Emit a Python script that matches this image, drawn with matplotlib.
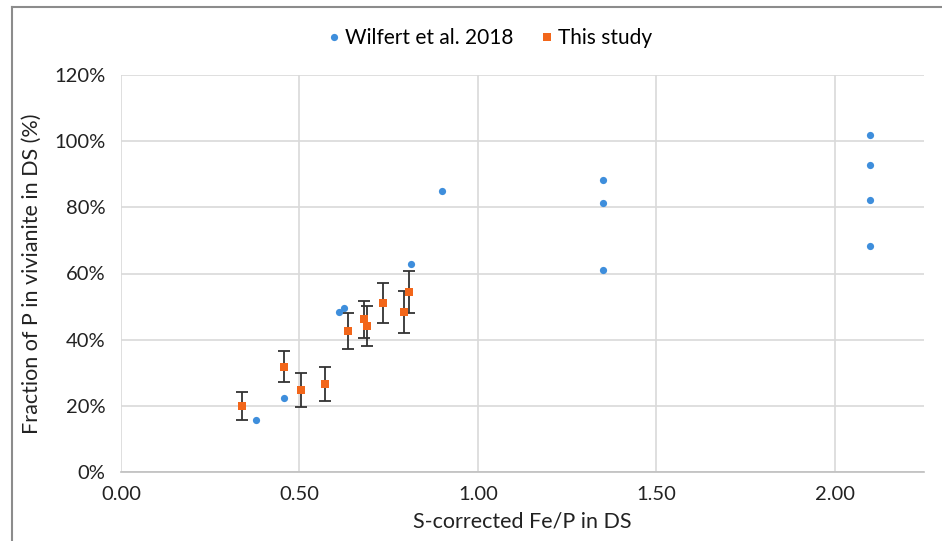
import matplotlib
matplotlib.use("Agg")
import matplotlib.pyplot as plt
from matplotlib.lines import Line2D
from matplotlib.ticker import FuncFormatter, MultipleLocator

plt.rcParams['font.family'] = ['Lato', 'DejaVu Sans']

# Wilfert et al. 2018
wil_x = [0.378, 0.457, 0.611, 0.624, 0.813, 0.899, 1.350, 1.350, 1.350, 2.10, 2.10, 2.10, 2.10]
wil_y = [15.8, 22.4, 48.4, 49.5, 63.0, 84.9, 88.2, 81.2, 61.2, 101.9, 92.8, 82.1, 68.3]

# This study
this_x = [0.339, 0.457, 0.505, 0.573, 0.637, 0.681, 0.690, 0.734, 0.794, 0.808]
this_y = [20.0, 31.8, 24.8, 26.6, 42.7, 46.1, 44.2, 51.1, 48.4, 54.5]
this_err = [4.2, 4.7, 5.1, 5.2, 5.4, 5.6, 6.1, 6.1, 6.3, 6.3]

BLUE = '#3E8EDC'
ORANGE = '#F2661A'

fig = plt.figure(figsize=(9.42, 5.41), dpi=100)
ax = fig.add_axes([121/942, 1-472/541, (924-121)/942, (472-75)/541])

ax.errorbar(this_x, this_y, yerr=this_err, fmt='none', ecolor='#333333',
            elinewidth=1.3, capsize=4, capthick=1.3, zorder=3)
ax.plot(wil_x, wil_y, 'o', color=BLUE, markersize=5.2, markeredgewidth=0, zorder=4)
ax.plot(this_x, this_y, 's', color=ORANGE, markersize=5.8, markeredgewidth=0, zorder=5)

ax.set_xlim(0, 2.25)
ax.set_ylim(0, 120)
ax.xaxis.set_major_locator(MultipleLocator(0.5))
ax.yaxis.set_major_locator(MultipleLocator(20))
ax.xaxis.set_major_formatter(FuncFormatter(lambda v, p: f'{v:.2f}'))
ax.yaxis.set_major_formatter(FuncFormatter(lambda v, p: f'{v:.0f}%'))
ax.grid(True, color='#D9D9D9', linewidth=1.2)
ax.set_axisbelow(True)
for s in ['top', 'right', 'left']:
    ax.spines[s].set_visible(False)
ax.spines['bottom'].set_color('#BFBFBF')
ax.spines['bottom'].set_linewidth(1.2)
ax.tick_params(axis='both', length=0, labelsize=14.5, colors='#404040')
ax.tick_params(axis='y', pad=11)
ax.tick_params(axis='x', pad=10)
for lab in ax.get_xticklabels() + ax.get_yticklabels():
    lab.set_color('#222222')

ax.set_xlabel('S-corrected Fe/P in DS', fontsize=15.5, color='#222222', labelpad=6)
ax.set_ylabel('Fraction of P in vivianite in DS (%)', fontsize=15.5, color='#222222', labelpad=9)

handles = [Line2D([], [], marker='o', linestyle='none', color=BLUE, markersize=5.2, markeredgewidth=0),
           Line2D([], [], marker='s', linestyle='none', color=ORANGE, markersize=5.8, markeredgewidth=0)]
fig.legend(handles, ['Wilfert et al. 2018', 'This study'], loc='center',
           bbox_to_anchor=(489/942, 1-38/541), ncol=2, frameon=False, fontsize=15,
           handletextpad=0.15, columnspacing=1.2, handlelength=0.8)

# outer frame (partially cropped)
fig.add_artist(Line2D([12/942, 1], [1-7/541, 1-7/541], color='#8C8C8C', linewidth=1.5,
                      transform=fig.transFigure))
fig.add_artist(Line2D([12/942, 12/942], [0, 1-7/541], color='#8C8C8C', linewidth=1.5,
                      transform=fig.transFigure))

fig.savefig('out.png', dpi=100)
